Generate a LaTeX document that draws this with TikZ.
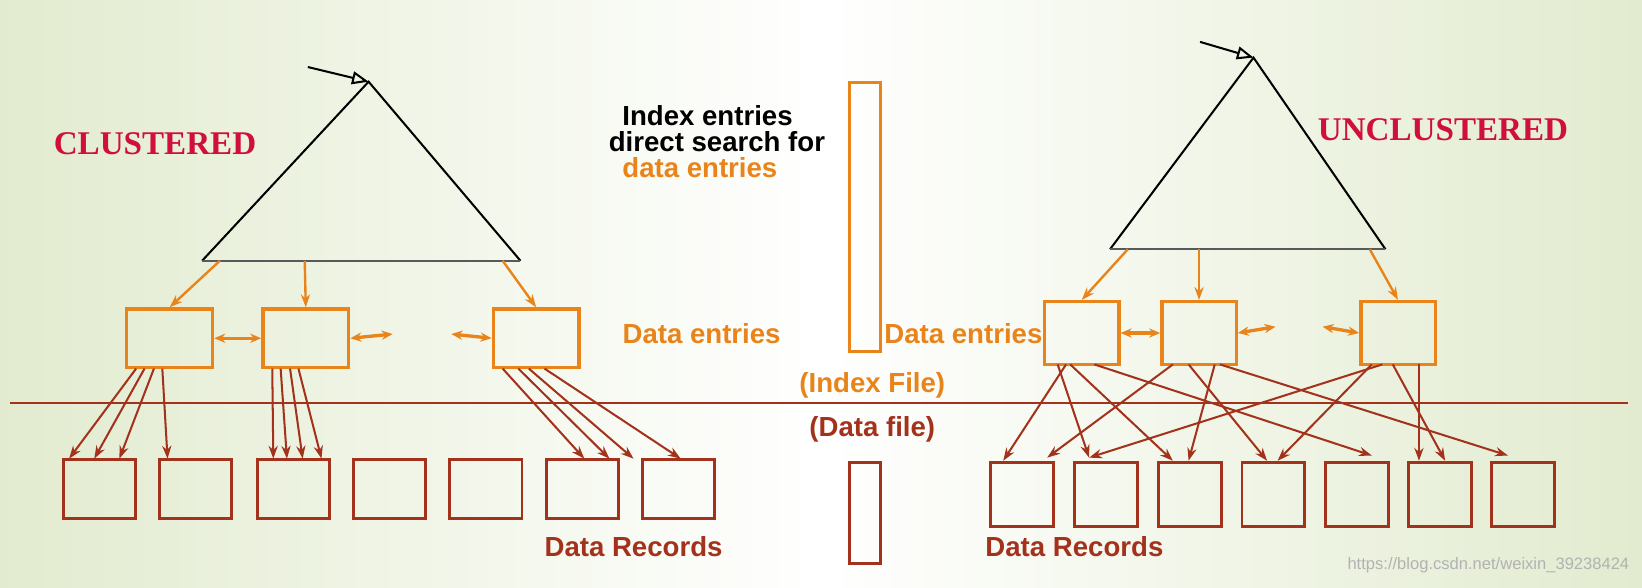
\documentclass[tikz,border=0pt]{standalone}
\usepackage{fontspec}
\setmainfont{Liberation Sans}
\newfontfamily\serifb{Liberation Serif}
\usetikzlibrary{arrows.meta}
\definecolor{org}{HTML}{E8841A}
\definecolor{brn}{HTML}{A3321C}
\definecolor{ttl}{HTML}{D0103A}
\definecolor{bgg}{HTML}{E2EBCF}
\begin{document}
\begin{tikzpicture}[x=0.02cm,y=-0.02cm,
 ob/.style={draw=org,line width=1.8pt},
 bb/.style={draw=brn,line width=1.6pt},
 oa/.style={draw=org,line width=1.3pt,-{Stealth[length=7pt,width=5pt]}},
 od/.style={draw=org,line width=1.8pt,{Stealth[length=6pt,width=5pt]}-{Stealth[length=6pt,width=5pt]}},
 ba/.style={draw=brn,line width=1.1pt,-{Stealth[length=7pt,width=5pt]}},
 tx/.style={font=\fontsize{15}{18}\selectfont\bfseries},
 tt/.style={font=\fontsize{18}{22}\selectfont\serifb\bfseries,text=ttl}]
\useasboundingbox (0,0) rectangle (1568,561);
\shade[left color=bgg,right color=bgg,middle color=white] (0,0) rectangle (1568,561);
% left tree
\coordinate (la) at (352,78);
\coordinate (lb1) at (193,249);\coordinate (lb2) at (497,249);
\draw[line width=1.1pt] (lb1)--(la)--(lb2);
\draw[gray!70!black,line width=1.3pt] (lb1)--(lb2);
\coordinate (lin) at (294,64);
\draw[line width=1.1pt,-{Triangle[open,length=9pt,width=7pt]}] (lin)--(la);
\node[tt] (cl) at (148,137) {CLUSTERED};
\foreach \n/\x in {l1/162,l2/292,l3/512}
 \node[ob,minimum width=1.64cm,minimum height=1.12cm,inner sep=0] (\n) at (\x,323) {};
\draw[oa] (210,249)--(l1.north);
\draw[oa] (291,249)--(l2.north);
\draw[oa] (480,249)--(l3.north);
\draw[od] (l1.east)--(l2.west);
\draw[od] (l2.east)--(375,319);
\draw[od] (431,319)--(l3.west);
\foreach \i/\x in {1/95,2/187,3/280,4/372,5/464,6/556,7/648}
 \node[bb,minimum width=1.38cm,minimum height=1.14cm,inner sep=0] (ld\i) at (\x,467) {};
\foreach \a/\b in {130/66,138/90,147/114,155/160}
 \draw[ba] (\a,352)--(\b,438);
\foreach \a/\b in {260/261,268/274,277/289,285/307}
 \draw[ba] (\a,352)--(\b,438);
\foreach \a/\b in {480/558,495/582,505/605,520/650}
 \draw[ba] (\a,352)--(\b,438);
% middle
\node[ob,line width=1.5pt,minimum width=0.6cm,minimum height=5.14cm,inner sep=0] (ix) at (826,207) {};
\node[bb,minimum width=0.6cm,minimum height=1.92cm,inner sep=0] (df) at (826,490) {};
\node[tx,anchor=west,inner sep=0] (ie1) at (594,110) {Index entries};
\node[tx,anchor=west,inner sep=0] (ie2) at (581,135) {direct search for};
\node[tx,anchor=west,inner sep=0,text=org] (ie3) at (594,160) {data entries};
\node[tx,text=org] (de1) at (670,319) {Data entries};
\node[tx,text=org] (de2) at (920,319) {Data entries};
\node[tx,text=org] (if) at (833,368) {(Index File)};
\node[tx,text=brn] (dfl) at (833,410) {(Data file)};
\node[tx,text=brn] (dr1) at (605,522) {Data Records};
\node[tx,text=brn] (dr2) at (1026,522) {Data Records};
\draw[brn,line width=1.4pt] (10,385)--(1555,385);
% right tree
\coordinate (ra) at (1197,55);
\coordinate (rb1) at (1060,238);\coordinate (rb2) at (1323,238);
\draw[line width=1.1pt] (rb1)--(ra)--(rb2);
\draw[gray!70!black,line width=1.3pt] (rb1)--(rb2);
\coordinate (rin) at (1146,40);
\draw[line width=1.1pt,-{Triangle[open,length=9pt,width=7pt]}] (rin)--(ra);
\node[tt] (ucl) at (1378,124) {UNCLUSTERED};
\foreach \n/\x in {r1/1033,r2/1145,r3/1335}
 \node[ob,minimum width=1.42cm,minimum height=1.2cm,inner sep=0] (\n) at (\x,318) {};
\draw[oa] (1077,238)--(r1.north);
\draw[oa] (1145,238)--(r2.north);
\draw[oa] (1308,238)--(r3.north);
\draw[od] (r1.east)--(r2.west);
\draw[od] (r2.east)--(1218,312);
\draw[od] (1263,312)--(r3.west);
\foreach \i/\x in {1/976,2/1056,3/1136,4/1216,5/1296,6/1375,7/1454}
 \node[bb,minimum width=1.2cm,minimum height=1.22cm,inner sep=0] (rd\i) at (\x,472) {};
\foreach \a/\b/\c in {1018/958/440,1010/1040/437,1022/1120/440,1045/1310/435,
  1120/1000/437,1135/1210/440,1160/1135/440,1165/1440/435,
  1310/1220/440,1330/1380/440,1355/1355/440,1320/1040/437}
 \draw[ba] (\a,348)--(\b,\c);
\node[gray!60,font=\small,anchor=east] (wm) at (1562,540) {https://blog.csdn.net/weixin\_39238424};
\end{tikzpicture}
\end{document}
